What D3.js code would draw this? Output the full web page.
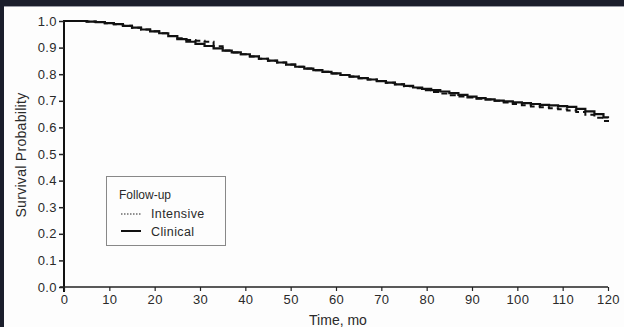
<!DOCTYPE html>
<html><head><meta charset="utf-8">
<script src="https://cdn.jsdelivr.net/npm/d3@7"></script>
<style>
html,body{margin:0;padding:0;background:#fdfdfd;}
svg{display:block;}
text{font-family:"Liberation Sans",Arial,sans-serif;fill:#2a2a2a;}
</style></head>
<body>
<svg id="c" width="624" height="327"></svg>
<script>
const xTicks = [0,10,20,30,40,50,60,70,80,90,100,110,120];
const yTicks = [0.0,0.1,0.2,0.3,0.4,0.5,0.6,0.7,0.8,0.9,1.0];
const xTitle = "Time, mo";
const yTitle = "Survival Probability";
const legendTitle = "Follow-up";
const seriesNames = ["Intensive","Clinical"];

const clinicalTime = [0,3,5,7,9,11,13,15,17,19,21,23,25,27,29,31,33,35,37,39,41,43,45,47,49,51,53,55,57,59,61,63,65,67,69,71,73,75,77,79,81,83,85,87,89,91,93,95,97,99,101,103,105,107,109,111,113,115,117,119,120];
const clinicalSurv = [1.0,1.0,0.998,0.996,0.992,0.988,0.982,0.975,0.968,0.961,0.954,0.943,0.932,0.922,0.914,0.906,0.897,0.889,0.882,0.875,0.867,0.858,0.851,0.844,0.836,0.828,0.821,0.815,0.809,0.803,0.797,0.791,0.785,0.780,0.774,0.768,0.762,0.756,0.750,0.745,0.740,0.735,0.729,0.722,0.716,0.710,0.705,0.701,0.698,0.694,0.691,0.688,0.685,0.683,0.680,0.677,0.670,0.660,0.650,0.638,0.634];

const intensiveTime = [0,3,5,7,9,11,13,15,17,19,21,23,25,27,29,31,33,35,37,39,41,43,45,47,49,51,53,55,57,59,61,63,65,67,69,71,73,75,77,79,81,83,85,87,89,91,93,95,97,99,101,103,105,107,109,111,113,115,117,119,120];
const intensiveSurv = [1.0,1.0,0.998,0.996,0.992,0.988,0.982,0.975,0.968,0.961,0.954,0.944,0.935,0.929,0.926,0.922,0.905,0.889,0.882,0.875,0.867,0.858,0.851,0.844,0.836,0.828,0.821,0.815,0.809,0.803,0.797,0.791,0.785,0.780,0.774,0.768,0.762,0.755,0.747,0.740,0.733,0.727,0.721,0.716,0.712,0.708,0.705,0.700,0.694,0.688,0.683,0.679,0.676,0.672,0.668,0.664,0.658,0.648,0.636,0.624,0.620];

const svg = d3.select("#c");
// dark frame edges
svg.append("rect").attr("x",0).attr("y",0).attr("width",624).attr("height",6).attr("fill","#1b1e2c");
svg.append("rect").attr("x",0).attr("y",0).attr("width",4).attr("height",327).attr("fill","#1b1e2c");
svg.append("line").attr("x1",4).attr("x2",624).attr("y1",6.5).attr("y2",6.5).attr("stroke","#9a9ca6").attr("stroke-width",1);

const x = d3.scaleLinear().domain([0,120]).range([64,608]);
const y = d3.scaleLinear().domain([0,1]).range([287,21]);

const FONT = "Liberation Sans, Arial, sans-serif";

// y axis
const yAxis = svg.append("g").attr("transform","translate(64,0)")
  .call(d3.axisLeft(y).tickValues(yTicks).tickFormat(d3.format(".1f")).tickSize(5).tickPadding(2));
yAxis.select(".domain").attr("stroke","#111").attr("stroke-width",2).attr("d","M0,20V292");
yAxis.selectAll(".tick line").attr("stroke","#222").attr("stroke-width",1.5);
yAxis.selectAll("text").attr("font-size",13).attr("letter-spacing",0.4).attr("fill","#2a2a2a").attr("font-family",FONT);

// x axis
const xAxis = svg.append("g").attr("transform","translate(0,287)")
  .call(d3.axisBottom(x).tickValues(xTicks).tickSize(4).tickPadding(4));
xAxis.select(".domain").attr("stroke","#222").attr("stroke-width",1.5).attr("d","M60,0H608");
xAxis.selectAll(".tick line").attr("stroke","#222").attr("stroke-width",1.2);
xAxis.selectAll("text").attr("font-size",13).attr("letter-spacing",0.4).attr("fill","#2a2a2a").attr("font-family",FONT);

// titles
svg.append("text").attr("x",338).attr("y",325).attr("text-anchor","middle").attr("font-size",14).text(xTitle);
svg.append("text").attr("transform","translate(26,155) rotate(-90)").attr("text-anchor","middle").attr("font-size",14).attr("letter-spacing",0.3).text(yTitle);

// curves
const line = d3.line().curve(d3.curveStepAfter).x(d=>x(d[0])).y(d=>y(d[1]));
const clin = clinicalTime.map((t,i)=>[t,clinicalSurv[i]]);
const inten = intensiveTime.map((t,i)=>[t,intensiveSurv[i]]);
svg.append("path").datum(inten).attr("d",line).attr("fill","none").attr("stroke","#111").attr("stroke-width",2).attr("stroke-dasharray","6,4");
svg.append("path").datum(clin).attr("d",line).attr("fill","none").attr("stroke","#111").attr("stroke-width",2.2);

// legend
const lg = svg.append("g");
lg.append("rect").attr("x",106.5).attr("y",176.5).attr("width",119).attr("height",69).attr("fill","#fdfdfd").attr("stroke","#888").attr("stroke-width",1);
lg.append("text").attr("x",119).attr("y",199).attr("font-size",12).text(legendTitle);
lg.append("line").attr("x1",121).attr("x2",141).attr("y1",214).attr("y2",214).attr("stroke","#222").attr("stroke-width",1).attr("stroke-dasharray","1.5,1.5");
lg.append("text").attr("x",151).attr("y",218).attr("font-size",12.5).attr("letter-spacing",0.4).text(seriesNames[0]);
lg.append("line").attr("x1",121).attr("x2",141).attr("y1",231).attr("y2",231).attr("stroke","#111").attr("stroke-width",2);
lg.append("text").attr("x",151).attr("y",235.5).attr("font-size",12.5).attr("letter-spacing",0.4).text(seriesNames[1]);
</script>
</body></html>
